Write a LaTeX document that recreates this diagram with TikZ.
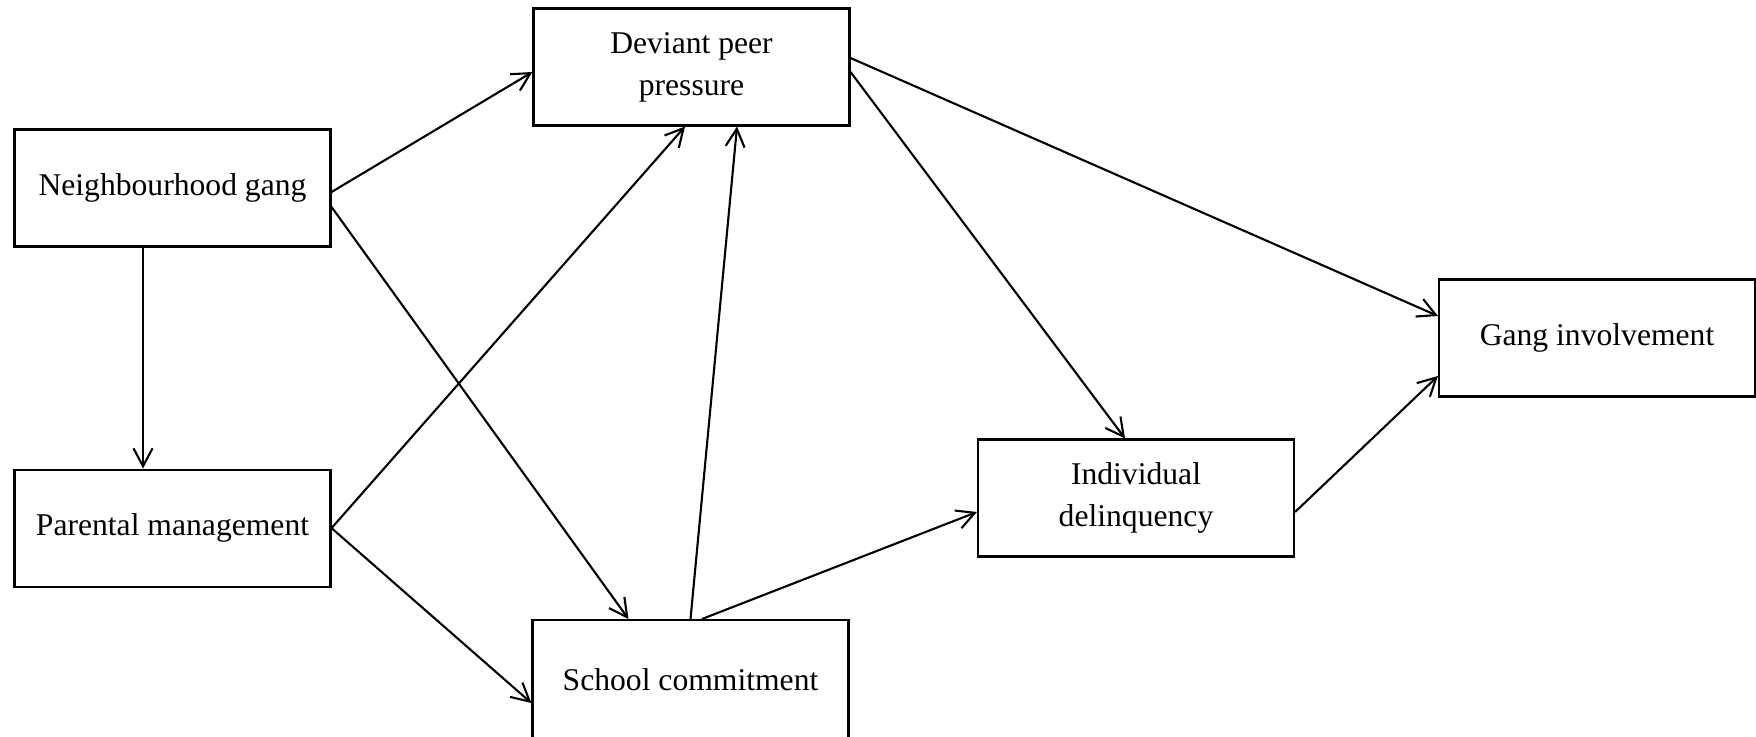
\documentclass[tikz,border=0pt]{standalone}
\usepackage{fontspec}
\setmainfont{Liberation Serif}
\usetikzlibrary{positioning,arrows.meta}

\begin{document}
\begin{tikzpicture}[every node/.style={font=\fontsize{9}{12}\selectfont, align=center},
  factor/.style={draw, line width=0.6pt, minimum width=3.16cm, minimum height=1.17cm, inner sep=0pt},
  link/.style={-{Straight Barb[length=1.8mm,width=1.9mm]}, line width=0.6pt}]
\useasboundingbox (0,0) rectangle (17.56,7.36);
\node[factor] (ng) at (1.725,5.48) {Neighbourhood gang};
\node[factor, below=2.21cm of ng] (pm) {Parental management};
\node[factor] (dpp) at (6.915,6.69) {Deviant peer\\pressure};
\node[factor, anchor=north, text height=0.7cm, text depth=0.6cm] (sc) at (6.905,1.17) {School commitment};
\node[factor] (id) at (11.36,2.38) {Individual\\delinquency};
\node[factor] (gi) at (15.97,3.98) {Gang involvement};
\draw[link] ([yshift=-0.04cm]ng.east) -- ([yshift=-0.05cm]dpp.west);
\draw[link] ([yshift=-0.19cm]ng.east) -- ([xshift=-0.62cm]sc.north);
\draw[link] ([xshift=-0.295cm]ng.south) -- ([xshift=-0.295cm]pm.north);
\draw[link] (pm.east) -- ([xshift=-0.065cm]dpp.south);
\draw[link] (pm.east) -- ([yshift=-0.18cm]sc.west);
\draw[link] (sc.north) -- ([xshift=0.455cm]dpp.south);
\draw[link] ([xshift=0.115cm]sc.north) -- ([yshift=-0.14cm]id.west);
\draw[link] ([yshift=-0.05cm]dpp.east) -- ([xshift=-0.11cm]id.north);
\draw[link] ([yshift=0.09cm]dpp.east) -- ([yshift=0.22cm]gi.west);
\draw[link] ([yshift=-0.14cm]id.east) -- ([yshift=-0.38cm]gi.west);
\end{tikzpicture}
\end{document}
